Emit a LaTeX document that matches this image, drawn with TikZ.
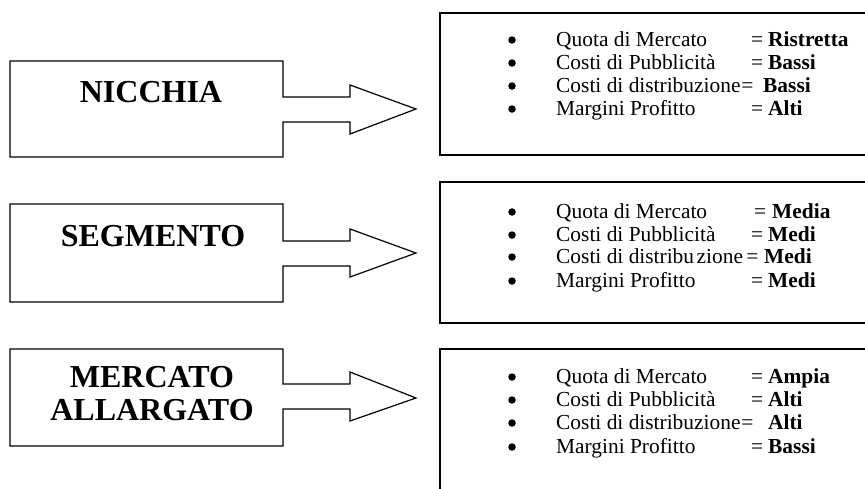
\documentclass[tikz,border=0pt]{standalone}
\usepackage{fontspec}
\setmainfont{Liberation Serif}
\begin{document}
\begin{tikzpicture}[x=1pt,y=-1pt]
\tikzset{
  callout/.style={draw, line width=1.2pt, line join=miter},
  listbox/.style={draw, line width=1.6pt},
  titletext/.style={font=\fontsize{32}{33}\selectfont\bfseries, inner sep=0pt, anchor=base, align=center},
  itemtext/.style={font=\fontsize{21.4}{23}\selectfont, inner sep=0pt, anchor=base west},
  bul/.style={circle, fill=black, inner sep=0pt, minimum size=7.5pt, yshift=6pt},
}
\clip (0,0) rectangle (865,488);
\fill[white] (0,0) rectangle (865,488);

% left callouts
\draw[callout] (10,61) -- (283,61) -- (283,97) -- (350,97) -- (350,85) -- (416,109) -- (350,134) -- (350,122) -- (283,122) -- (283,157) -- (10,157) -- cycle;
\draw[callout] (10,204) -- (283,204) -- (283,241) -- (350,241) -- (350,229) -- (416,253) -- (350,277) -- (350,266) -- (283,266) -- (283,302) -- (10,302) -- cycle;
\draw[callout] (10,349) -- (283,349) -- (283,384) -- (350,384) -- (350,372) -- (416,398) -- (350,421) -- (350,409) -- (283,409) -- (283,446) -- (10,446) -- cycle;

\node[titletext] (t1) at (151,102) {NICCHIA};
\node[titletext] (t2) at (153,246) {SEGMENTO};
\node[titletext] (t3) at (152,420) {MERCATO\\ALLARGATO};

% right boxes
\draw[listbox] (440,13) rectangle (900,155);
\draw[listbox] (440,182) rectangle (900,323);
\draw[listbox] (440,349) rectangle (900,520);

% box 1
\node[bul] (b11) at (512,46) {};
\node[bul] (b12) at (512,69) {};
\node[bul] (b13) at (512,92) {};
\node[bul] (b14) at (512,115) {};
\node[itemtext] (l11) at (556,46) {Quota di Mercato};
\node[itemtext] (l12) at (556,69) {Costi di Pubblicità};
\node[itemtext] (l13) at (556,92) {Costi di distribuzione};
\node[itemtext] (l14) at (556,115) {Margini Profitto};
\node[itemtext] (e11) at (751,46) {=};
\node[itemtext] (e12) at (751,69) {=};
\node[itemtext, xshift=0.5pt] (e13) at (l13.base east) {=};
\node[itemtext] (e14) at (751,115) {=};
\node[itemtext] (v11) at (768,46) {\textbf{Ristretta}};
\node[itemtext] (v12) at (768,69) {\textbf{Bassi}};
\node[itemtext] (v13) at (763,92) {\textbf{Bassi}};
\node[itemtext] (v14) at (768,115) {\textbf{Alti}};

% box 2
\node[bul] (b21) at (512,218) {};
\node[bul] (b22) at (512,241) {};
\node[bul] (b23) at (512,263) {};
\node[bul] (b24) at (512,287) {};
\node[itemtext] (l21) at (556,218) {Quota di Mercato};
\node[itemtext] (l22) at (556,241) {Costi di Pubblicità};
\node[itemtext] (l23) at (556,263) {Costi di distribu\hspace{0.12em}zione};
\node[itemtext] (l24) at (556,287) {Margini Profitto};
\node[itemtext] (e21) at (754,218) {=};
\node[itemtext] (e22) at (751,241) {=};
\node[itemtext, xshift=3pt] (e23) at (l23.base east) {=};
\node[itemtext] (e24) at (751,287) {=};
\node[itemtext] (v21) at (772,218) {\textbf{Media}};
\node[itemtext] (v22) at (768,241) {\textbf{Medi}};
\node[itemtext] (v23) at (764,263) {\textbf{Medi}};
\node[itemtext] (v24) at (768,287) {\textbf{Medi}};

% box 3
\node[bul] (b31) at (512,383) {};
\node[bul] (b32) at (512,406) {};
\node[bul] (b33) at (512,429) {};
\node[bul] (b34) at (512,453) {};
\node[itemtext] (l31) at (556,383) {Quota di Mercato};
\node[itemtext] (l32) at (556,406) {Costi di Pubblicità};
\node[itemtext] (l33) at (556,429) {Costi di distribuzione};
\node[itemtext] (l34) at (556,453) {Margini Profitto};
\node[itemtext] (e31) at (751,383) {=};
\node[itemtext] (e32) at (751,406) {=};
\node[itemtext, xshift=0.5pt] (e33) at (l33.base east) {=};
\node[itemtext] (e34) at (751,453) {=};
\node[itemtext] (v31) at (768,383) {\textbf{Ampia}};
\node[itemtext] (v32) at (768,406) {\textbf{Alti}};
\node[itemtext] (v33) at (768,429) {\textbf{Alti}};
\node[itemtext] (v34) at (768,453) {\textbf{Bassi}};
\end{tikzpicture}
\end{document}
